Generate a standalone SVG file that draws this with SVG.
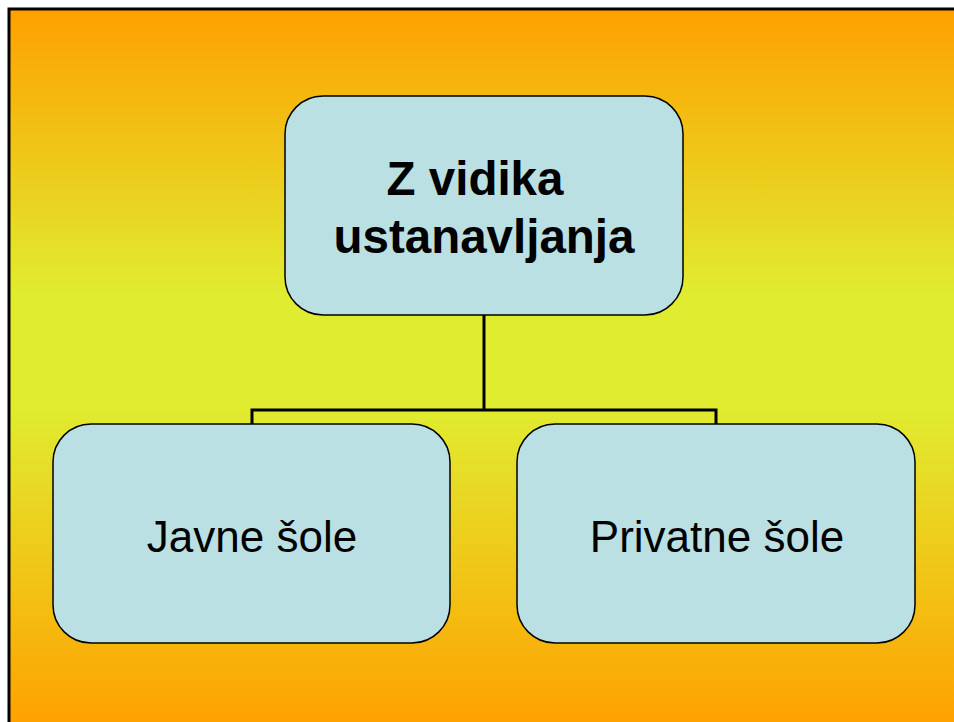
<svg xmlns="http://www.w3.org/2000/svg" width="954" height="722" viewBox="0 0 954 722">
<defs>
<linearGradient id="bg" gradientUnits="userSpaceOnUse" x1="0" y1="9" x2="0" y2="722">
<stop offset="0" stop-color="#FFA000"/>
<stop offset="0.4" stop-color="#E0EC30"/>
<stop offset="0.56" stop-color="#E0EC30"/>
<stop offset="1" stop-color="#FFA200"/>
</linearGradient>
<style>
.box{fill:#BBE0E3;stroke:#000;stroke-width:1.5}
.conn{fill:none;stroke:#000;stroke-width:3}
.t{font-family:"Liberation Sans",Arial,sans-serif;text-anchor:middle;fill:#000}
.b{font-weight:bold;font-size:47.5px}
.r{font-size:44px}
</style>
</defs>
<rect x="0" y="0" width="954" height="722" fill="#fff"/>
<rect x="9" y="9" width="945" height="713" fill="url(#bg)"/>
<path d="M9 722 V9 H954" fill="none" stroke="#000" stroke-width="3"/>
<g id="connectors">
<path class="conn" d="M484 315 V410 M252 424 V410 H716 V424"/>
</g>
<g id="root">
<rect class="box" x="285" y="96" width="398" height="219" rx="38" ry="38"/>
<text class="t b" x="475" y="195">Z vidika</text>
<text class="t b" x="484" y="253">ustanavljanja</text>
</g>
<g id="javne">
<rect class="box" x="53" y="424" width="397" height="219" rx="38" ry="38"/>
<text class="t r" x="252" y="552">Javne šole</text>
</g>
<g id="privatne">
<rect class="box" x="517" y="424" width="398" height="219" rx="38" ry="38"/>
<text class="t r" x="717" y="552">Privatne šole</text>
</g>
</svg>
